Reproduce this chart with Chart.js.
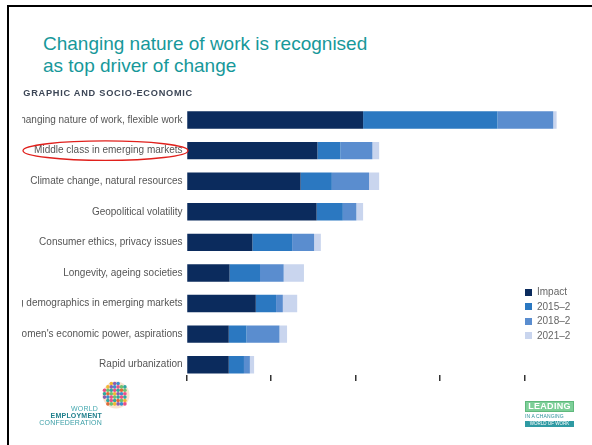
<!DOCTYPE html>
<html>
<head>
<meta charset="utf-8">
<script src="https://cdn.jsdelivr.net/npm/chart.js@4.4.1/dist/chart.umd.min.js"></script>
<style>
  html, body { margin: 0; padding: 0; background: #fff; }
  #page { position: relative; width: 592px; height: 445px; overflow: hidden; background: #fff; font-family: "Liberation Sans", Arial, sans-serif; }
  #borderTop { position: absolute; left: 7px; top: 5px; width: 585px; height: 2px; background: #000; }
  #borderLeft { position: absolute; left: 7px; top: 5px; width: 2px; height: 440px; background: #000; }
  #title { position: absolute; left: 43px; top: 33px; font-size: 19px; line-height: 22px; color: #17989a; white-space: nowrap; }
  #clip { position: absolute; left: 22px; top: 85px; width: 548px; height: 296px; overflow: hidden; }
  #chartWrap { position: absolute; left: -102px; top: 0; }
  #header { position: absolute; right: 377px; top: 3px; font-size: 9.2px; font-weight: bold; letter-spacing: 0.75px; color: #3c4656; white-space: nowrap; }
  #legend { position: absolute; left: 503px; top: 200px; font-size: 10px; color: #666; white-space: nowrap; }
  #legend .row { height: 14.5px; line-height: 14.5px; display: flex; align-items: center; }
  #legend .sw { width: 7px; height: 7px; margin-right: 5px; flex: none; }
  #wec { position: absolute; left: 30px; top: 378px; width: 110px; height: 50px; }
  .wtxt { position: absolute; right: 0; font-size: 7px; line-height: 7px; white-space: nowrap; letter-spacing: 0.2px; }
  #lead { position: absolute; left: 525px; top: 401px; width: 49px; }
</style>
</head>
<body>
<div id="page">
  <div id="borderTop"></div>
  <div id="borderLeft"></div>
  <div id="title">Changing nature of work is recognised<br>as top driver of change</div>
  <div id="clip">
    <div id="chartWrap"><canvas id="c" width="694" height="305"></canvas></div>
    <div id="header">DEMOGRAPHIC AND SOCIO-ECONOMIC</div>
    <div id="legend"></div>
  </div>
  <div id="wec">
    <svg id="wecLogo" width="30" height="30" style="position:absolute; left:71px; top:2px;" viewBox="0 0 30 30"></svg>
    <div class="wtxt" style="right:42px; top:27px; color:#45a9b0;">WORLD</div>
    <div class="wtxt" style="right:38px; top:34px; color:#1f7f8c; font-weight:bold;">EMPLOYMENT</div>
    <div class="wtxt" style="right:38px; top:41px; color:#3b9ea6;">CONFEDERATION</div>
  </div>
  <div id="lead">
    <div style="background:#7dcf98; color:#fff; font-size:9px; font-weight:bold; text-align:center; height:9px; line-height:9px; border:1px solid #5fb87c; letter-spacing:0.3px;">LEADING</div>
    <div style="color:#2a8f9a; font-size:5px; line-height:7px; margin-top:1px; letter-spacing:0.1px;">IN A CHANGING</div>
    <div style="background:#2f9aa3; color:#fff; font-size:4.5px; text-align:center; height:6px; line-height:6px; margin-top:1px;">WORLD OF WORK</div>
  </div>
</div>
<script>
// ---- data ----
const categories = [
  "Changing nature of work, flexible work",
  "Middle class in emerging markets",
  "Climate change, natural resources",
  "Geopolitical volatility",
  "Consumer ethics, privacy issues",
  "Longevity, ageing societies",
  "Young demographics in emerging markets",
  "Women's economic power, aspirations",
  "Rapid urbanization"
];
const seriesLabels = ["Impact felt already", "2015–2017", "2018–2020", "2021–2025"];
const impactFelt = [20.9, 15.5, 13.5, 15.4, 7.8, 5.1, 8.2, 5.0, 5.0];
const years2015to2017 = [15.9, 2.7, 3.7, 3.1, 4.7, 3.6, 2.4, 2.1, 1.8];
const years2018to2020 = [6.6, 3.8, 4.4, 1.6, 2.6, 2.8, 0.8, 3.9, 0.7];
const years2021to2025 = [0.4, 0.8, 1.2, 0.8, 0.8, 2.4, 1.7, 0.9, 0.5];
const xTickValues = [0, 10, 20, 30, 40, 50];
const highlightedCategory = "Middle class in emerging markets";

const seriesColors = ["#0b2b5d", "#2b78c1", "#5a8dcf", "#c9d5ee"];
const seriesValues = [impactFelt, years2015to2017, years2018to2020, years2021to2025];

// legend (HTML, built from the same arrays)
const legendEl = document.getElementById('legend');
seriesLabels.forEach((lab, i) => {
  const r = document.createElement('div'); r.className = 'row';
  const sw = document.createElement('span'); sw.className = 'sw'; sw.style.background = seriesColors[i];
  const t = document.createElement('span'); t.textContent = lab;
  r.appendChild(sw); r.appendChild(t); legendEl.appendChild(r);
});

// WEC logo: a sphere of coloured dots
(function(){
  const svg = document.getElementById('wecLogo');
  const NS = 'http://www.w3.org/2000/svg';
  const bg = document.createElementNS(NS, 'circle');
  bg.setAttribute('cx', 15); bg.setAttribute('cy', 15); bg.setAttribute('r', 13.5);
  bg.setAttribute('fill', '#f3c7a0'); bg.setAttribute('opacity', '0.5');
  svg.appendChild(bg);
  const cols = ["#e8508a","#f2b632","#2fa7a0","#6cc070","#8a5fb0","#e06a3a","#2fa7a0","#3b8fd0","#6cc070","#e8508a"];
  let k = 0;
  for (let y = 3.5; y <= 27; y += 3.4) {
    for (let x = 3.5; x <= 27; x += 3.4) {
      const dx = x - 15, dy = y - 15;
      if (dx*dx + dy*dy > 160) continue;
      const c = document.createElementNS(NS, 'circle');
      c.setAttribute('cx', x); c.setAttribute('cy', y); c.setAttribute('r', 1.8);
      c.setAttribute('fill', cols[(k*3 + Math.floor(y/3)) % cols.length]);
      svg.appendChild(c); k++;
    }
  }
})();

const highlightPlugin = {
  id: 'highlight',
  afterDraw(chart) {
    const ys = chart.scales.y;
    const idx = categories.indexOf(highlightedCategory);
    const cy = ys.getPixelForValue(idx);
    const ctx = chart.ctx;
    ctx.save();
    ctx.beginPath();
    ctx.ellipse(185.5, cy, 82.5, 9.7, 0, 0, Math.PI * 2);
    ctx.strokeStyle = '#e0201c';
    ctx.lineWidth = 1.3;
    ctx.stroke();
    ctx.restore();
  }
};

new Chart(document.getElementById('c'), {
  type: 'bar',
  data: {
    labels: categories,
    datasets: seriesLabels.map((lab, i) => ({
      label: lab,
      data: seriesValues[i],
      backgroundColor: seriesColors[i],
      borderWidth: 0,
      barPercentage: 1,
      categoryPercentage: 0.57
    }))
  },
  options: {
    indexAxis: 'y',
    responsive: false,
    animation: false,
    layout: { padding: { top: 19.75, left: 0, right: 5, bottom: 0 } },
    plugins: { legend: { display: false }, tooltip: { enabled: false }, title: { display: false } },
    scales: {
      x: {
        stacked: true,
        position: { y: 8.33 },
        min: 0, max: 50,
        afterBuildTicks: s => { s.ticks = xTickValues.map(v => ({ value: v })); },
        ticks: { display: false },
        grid: { drawOnChartArea: false, drawTicks: true, tickLength: 8, color: '#333', lineWidth: 1.5 },
        border: { display: false }
      },
      y: {
        stacked: true,
        afterFit: s => { s.width = 266.5; },
        grid: { display: false, drawTicks: false },
        border: { display: false },
        ticks: { padding: 4, color: '#555', font: { family: 'Liberation Sans', size: 10 } }
      }
    }
  },
  plugins: [highlightPlugin]
});
</script>
</body>
</html>
